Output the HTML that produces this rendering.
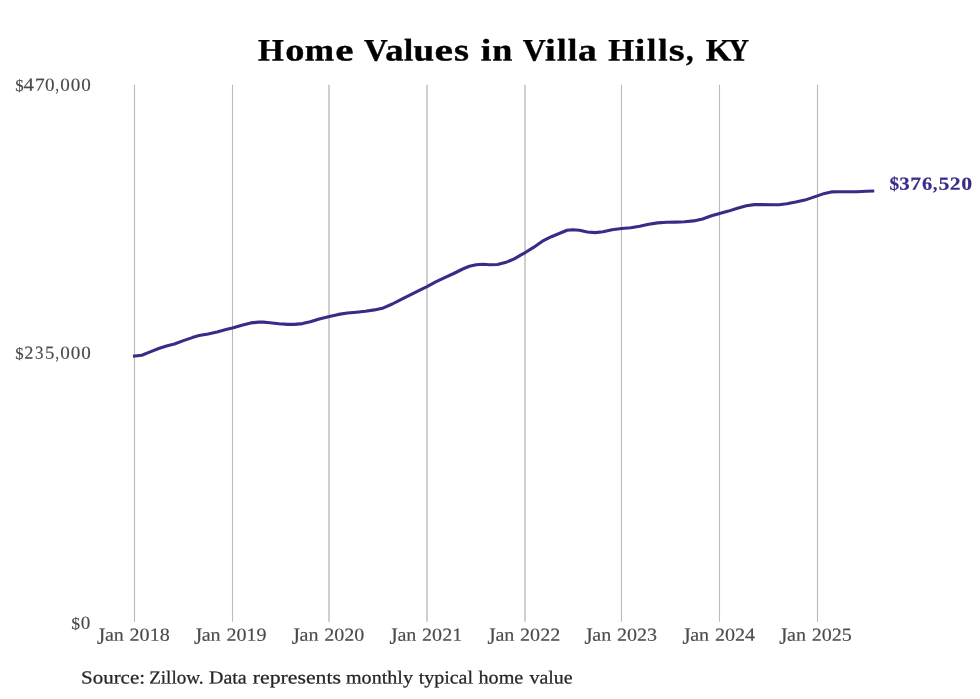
<!DOCTYPE html>
<html><head><meta charset="utf-8"><title>Home Values in Villa Hills, KY</title>
<style>html,body{margin:0;padding:0;background:#fff;}svg{display:block;will-change:transform;}text{font-family:"Liberation Serif",serif;text-rendering:geometricPrecision;}</style></head><body>
<svg width="980" height="699" viewBox="0 0 980 699">
<line x1="134.5" y1="84.8" x2="134.5" y2="621.8" stroke="#bababa" stroke-width="1.1"/>
<line x1="232.5" y1="84.8" x2="232.5" y2="621.8" stroke="#bababa" stroke-width="1.1"/>
<line x1="329.0" y1="84.8" x2="329.0" y2="621.8" stroke="#a8a8a8" stroke-width="1.1"/>
<line x1="427.0" y1="84.8" x2="427.0" y2="621.8" stroke="#a8a8a8" stroke-width="1.1"/>
<line x1="525.0" y1="84.8" x2="525.0" y2="621.8" stroke="#a8a8a8" stroke-width="1.1"/>
<line x1="621.5" y1="84.8" x2="621.5" y2="621.8" stroke="#bababa" stroke-width="1.1"/>
<line x1="719.5" y1="84.8" x2="719.5" y2="621.8" stroke="#bababa" stroke-width="1.1"/>
<line x1="817.5" y1="84.8" x2="817.5" y2="621.8" stroke="#bababa" stroke-width="1.1"/>
<text transform="translate(258.07,60.6) scale(1.0628,1) rotate(0.03)" font-size="31.2" font-weight="bold" fill="#000000" stroke="#000000" stroke-width="0.4">H</text>
<text transform="translate(285.25,60.6) scale(1.2311,1) rotate(0.03)" font-size="31.2" font-weight="bold" fill="#000000" stroke="#000000" stroke-width="0.4">o</text>
<text transform="translate(304.80,60.6) scale(1.1258,1) rotate(0.03)" font-size="31.2" font-weight="bold" fill="#000000" stroke="#000000" stroke-width="0.4">m</text>
<text transform="translate(335.17,60.6) scale(1.3149,1) rotate(0.03)" font-size="31.2" font-weight="bold" fill="#000000" stroke="#000000" stroke-width="0.4">e</text>
<text transform="translate(363.90,60.6) scale(1.0506,1) rotate(0.03)" font-size="31.2" font-weight="bold" fill="#000000" stroke="#000000" stroke-width="0.4">V</text>
<text transform="translate(385.30,60.6) scale(1.1706,1) rotate(0.03)" font-size="31.2" font-weight="bold" fill="#000000" stroke="#000000" stroke-width="0.4">a</text>
<text transform="translate(403.97,60.6) scale(1.0478,1) rotate(0.03)" font-size="31.2" font-weight="bold" fill="#000000" stroke="#000000" stroke-width="0.4">l</text>
<text transform="translate(413.53,60.6) scale(1.1853,1) rotate(0.03)" font-size="31.2" font-weight="bold" fill="#000000" stroke="#000000" stroke-width="0.4">u</text>
<text transform="translate(434.55,60.6) scale(1.3314,1) rotate(0.03)" font-size="31.2" font-weight="bold" fill="#000000" stroke="#000000" stroke-width="0.4">e</text>
<text transform="translate(454.03,60.6) scale(1.2363,1) rotate(0.03)" font-size="31.2" font-weight="bold" fill="#000000" stroke="#000000" stroke-width="0.4">s</text>
<text transform="translate(480.64,60.6) scale(1.2179,1) rotate(0.03)" font-size="31.2" font-weight="bold" fill="#000000" stroke="#000000" stroke-width="0.4">i</text>
<text transform="translate(492.18,60.6) scale(1.1551,1) rotate(0.03)" font-size="31.2" font-weight="bold" fill="#000000" stroke="#000000" stroke-width="0.4">n</text>
<text transform="translate(522.80,60.6) scale(1.0239,1) rotate(0.03)" font-size="31.2" font-weight="bold" fill="#000000" stroke="#000000" stroke-width="0.4">V</text>
<text transform="translate(545.03,60.6) scale(1.2308,1) rotate(0.03)" font-size="31.2" font-weight="bold" fill="#000000" stroke="#000000" stroke-width="0.4">i</text>
<text transform="translate(556.96,60.6) scale(1.0971,1) rotate(0.03)" font-size="31.2" font-weight="bold" fill="#000000" stroke="#000000" stroke-width="0.4">l</text>
<text transform="translate(567.76,60.6) scale(1.0971,1) rotate(0.03)" font-size="31.2" font-weight="bold" fill="#000000" stroke="#000000" stroke-width="0.4">l</text>
<text transform="translate(577.88,60.6) scale(1.1984,1) rotate(0.03)" font-size="31.2" font-weight="bold" fill="#000000" stroke="#000000" stroke-width="0.4">a</text>
<text transform="translate(608.37,60.6) scale(1.0670,1) rotate(0.03)" font-size="31.2" font-weight="bold" fill="#000000" stroke="#000000" stroke-width="0.4">H</text>
<text transform="translate(634.84,60.6) scale(1.2179,1) rotate(0.03)" font-size="31.2" font-weight="bold" fill="#000000" stroke="#000000" stroke-width="0.4">i</text>
<text transform="translate(647.07,60.6) scale(1.0725,1) rotate(0.03)" font-size="31.2" font-weight="bold" fill="#000000" stroke="#000000" stroke-width="0.4">l</text>
<text transform="translate(658.17,60.6) scale(1.0725,1) rotate(0.03)" font-size="31.2" font-weight="bold" fill="#000000" stroke="#000000" stroke-width="0.4">l</text>
<text transform="translate(668.79,60.6) scale(1.3004,1) rotate(0.03)" font-size="31.2" font-weight="bold" fill="#000000" stroke="#000000" stroke-width="0.4">s</text>
<text transform="translate(685.90,60.6) scale(0.9615,1) rotate(0.03)" font-size="31.2" font-weight="bold" fill="#000000" stroke="#000000" stroke-width="0.4">,</text>
<text transform="translate(705.67,60.6) scale(1.0531,1) rotate(0.03)" font-size="31.2" font-weight="bold" fill="#000000" stroke="#000000" stroke-width="0.4">K</text>
<text transform="translate(728.42,60.6) scale(0.9112,1) rotate(0.03)" font-size="31.2" font-weight="bold" fill="#000000" stroke="#000000" stroke-width="0.4">Y</text>
<text transform="translate(15.23,90.85) scale(0.9075,0.9) rotate(0.03)" font-size="18.45" font-weight="normal" fill="#4a4a4a" stroke="#4a4a4a" stroke-width="0.15">$</text>
<text transform="translate(23.38,90.85) scale(1.1301,1) rotate(0.03)" font-size="18.45" font-weight="normal" fill="#4a4a4a" stroke="#4a4a4a" stroke-width="0.15">4</text>
<text transform="translate(34.94,90.85) scale(1.0453,1) rotate(0.03)" font-size="18.45" font-weight="normal" fill="#4a4a4a" stroke="#4a4a4a" stroke-width="0.15">7</text>
<text transform="translate(45.03,90.85) scale(1.0347,1) rotate(0.03)" font-size="18.45" font-weight="normal" fill="#4a4a4a" stroke="#4a4a4a" stroke-width="0.15">0</text>
<text transform="translate(55.49,90.85) scale(0.7453,1) rotate(0.03)" font-size="18.45" font-weight="normal" fill="#4a4a4a" stroke="#4a4a4a" stroke-width="0.15">,</text>
<text transform="translate(60.33,90.85) scale(1.0347,1) rotate(0.03)" font-size="18.45" font-weight="normal" fill="#4a4a4a" stroke="#4a4a4a" stroke-width="0.15">0</text>
<text transform="translate(70.73,90.85) scale(1.0347,1) rotate(0.03)" font-size="18.45" font-weight="normal" fill="#4a4a4a" stroke="#4a4a4a" stroke-width="0.15">0</text>
<text transform="translate(81.13,90.85) scale(1.0347,1) rotate(0.03)" font-size="18.45" font-weight="normal" fill="#4a4a4a" stroke="#4a4a4a" stroke-width="0.15">0</text>
<text transform="translate(15.23,358.8) scale(0.9075,0.9) rotate(0.03)" font-size="18.45" font-weight="normal" fill="#4a4a4a" stroke="#4a4a4a" stroke-width="0.15">$</text>
<text transform="translate(24.37,358.8) scale(0.9915,1) rotate(0.03)" font-size="18.45" font-weight="normal" fill="#4a4a4a" stroke="#4a4a4a" stroke-width="0.15">2</text>
<text transform="translate(35.02,358.8) scale(0.9201,1) rotate(0.03)" font-size="18.45" font-weight="normal" fill="#4a4a4a" stroke="#4a4a4a" stroke-width="0.15">3</text>
<text transform="translate(44.96,358.8) scale(1.0179,1) rotate(0.03)" font-size="18.45" font-weight="normal" fill="#4a4a4a" stroke="#4a4a4a" stroke-width="0.15">5</text>
<text transform="translate(55.49,358.8) scale(0.7453,1) rotate(0.03)" font-size="18.45" font-weight="normal" fill="#4a4a4a" stroke="#4a4a4a" stroke-width="0.15">,</text>
<text transform="translate(60.33,358.8) scale(1.0347,1) rotate(0.03)" font-size="18.45" font-weight="normal" fill="#4a4a4a" stroke="#4a4a4a" stroke-width="0.15">0</text>
<text transform="translate(70.73,358.8) scale(1.0347,1) rotate(0.03)" font-size="18.45" font-weight="normal" fill="#4a4a4a" stroke="#4a4a4a" stroke-width="0.15">0</text>
<text transform="translate(81.13,358.8) scale(1.0347,1) rotate(0.03)" font-size="18.45" font-weight="normal" fill="#4a4a4a" stroke="#4a4a4a" stroke-width="0.15">0</text>
<text transform="translate(71.29,628.8) scale(0.9580,0.9) rotate(0.03)" font-size="18.45" font-weight="normal" fill="#4a4a4a" stroke="#4a4a4a" stroke-width="0.15">$</text>
<text transform="translate(80.83,628.8) scale(1.0347,1) rotate(0.03)" font-size="18.45" font-weight="normal" fill="#4a4a4a" stroke="#4a4a4a" stroke-width="0.15">0</text>
<text transform="translate(97.08,643.8) scale(1.1305,1.27) rotate(0.03)" font-size="18.45" font-weight="normal" fill="#4a4a4a" stroke="#4a4a4a" stroke-width="0.15">J</text>
<text transform="translate(104.90,640.65) scale(1.0900,1) rotate(0.03)" font-size="18.45" font-weight="normal" fill="#4a4a4a" stroke="#4a4a4a" stroke-width="0.15">an</text>
<text transform="translate(129.60,640.65) scale(1.0868,1) rotate(0.03)" font-size="18.45" font-weight="normal" fill="#4a4a4a" stroke="#4a4a4a" stroke-width="0.15">2018</text>
<text transform="translate(193.88,643.8) scale(1.1305,1.27) rotate(0.03)" font-size="18.45" font-weight="normal" fill="#4a4a4a" stroke="#4a4a4a" stroke-width="0.15">J</text>
<text transform="translate(201.70,640.65) scale(1.0900,1) rotate(0.03)" font-size="18.45" font-weight="normal" fill="#4a4a4a" stroke="#4a4a4a" stroke-width="0.15">an</text>
<text transform="translate(226.40,640.65) scale(1.0868,1) rotate(0.03)" font-size="18.45" font-weight="normal" fill="#4a4a4a" stroke="#4a4a4a" stroke-width="0.15">2019</text>
<text transform="translate(291.78,643.8) scale(1.1305,1.27) rotate(0.03)" font-size="18.45" font-weight="normal" fill="#4a4a4a" stroke="#4a4a4a" stroke-width="0.15">J</text>
<text transform="translate(299.60,640.65) scale(1.0900,1) rotate(0.03)" font-size="18.45" font-weight="normal" fill="#4a4a4a" stroke="#4a4a4a" stroke-width="0.15">an</text>
<text transform="translate(324.30,640.65) scale(1.0868,1) rotate(0.03)" font-size="18.45" font-weight="normal" fill="#4a4a4a" stroke="#4a4a4a" stroke-width="0.15">2020</text>
<text transform="translate(389.58,643.8) scale(1.1305,1.27) rotate(0.03)" font-size="18.45" font-weight="normal" fill="#4a4a4a" stroke="#4a4a4a" stroke-width="0.15">J</text>
<text transform="translate(397.40,640.65) scale(1.0900,1) rotate(0.03)" font-size="18.45" font-weight="normal" fill="#4a4a4a" stroke="#4a4a4a" stroke-width="0.15">an</text>
<text transform="translate(422.10,640.65) scale(1.0868,1) rotate(0.03)" font-size="18.45" font-weight="normal" fill="#4a4a4a" stroke="#4a4a4a" stroke-width="0.15">2021</text>
<text transform="translate(487.58,643.8) scale(1.1305,1.27) rotate(0.03)" font-size="18.45" font-weight="normal" fill="#4a4a4a" stroke="#4a4a4a" stroke-width="0.15">J</text>
<text transform="translate(495.40,640.65) scale(1.0900,1) rotate(0.03)" font-size="18.45" font-weight="normal" fill="#4a4a4a" stroke="#4a4a4a" stroke-width="0.15">an</text>
<text transform="translate(520.10,640.65) scale(1.0868,1) rotate(0.03)" font-size="18.45" font-weight="normal" fill="#4a4a4a" stroke="#4a4a4a" stroke-width="0.15">2022</text>
<text transform="translate(584.48,643.8) scale(1.1305,1.27) rotate(0.03)" font-size="18.45" font-weight="normal" fill="#4a4a4a" stroke="#4a4a4a" stroke-width="0.15">J</text>
<text transform="translate(592.30,640.65) scale(1.0900,1) rotate(0.03)" font-size="18.45" font-weight="normal" fill="#4a4a4a" stroke="#4a4a4a" stroke-width="0.15">an</text>
<text transform="translate(617.00,640.65) scale(1.0868,1) rotate(0.03)" font-size="18.45" font-weight="normal" fill="#4a4a4a" stroke="#4a4a4a" stroke-width="0.15">2023</text>
<text transform="translate(682.38,643.8) scale(1.1305,1.27) rotate(0.03)" font-size="18.45" font-weight="normal" fill="#4a4a4a" stroke="#4a4a4a" stroke-width="0.15">J</text>
<text transform="translate(690.20,640.65) scale(1.0900,1) rotate(0.03)" font-size="18.45" font-weight="normal" fill="#4a4a4a" stroke="#4a4a4a" stroke-width="0.15">an</text>
<text transform="translate(714.90,640.65) scale(1.0868,1) rotate(0.03)" font-size="18.45" font-weight="normal" fill="#4a4a4a" stroke="#4a4a4a" stroke-width="0.15">2024</text>
<text transform="translate(779.18,643.8) scale(1.1305,1.27) rotate(0.03)" font-size="18.45" font-weight="normal" fill="#4a4a4a" stroke="#4a4a4a" stroke-width="0.15">J</text>
<text transform="translate(787.00,640.65) scale(1.0900,1) rotate(0.03)" font-size="18.45" font-weight="normal" fill="#4a4a4a" stroke="#4a4a4a" stroke-width="0.15">an</text>
<text transform="translate(811.70,640.65) scale(1.0868,1) rotate(0.03)" font-size="18.45" font-weight="normal" fill="#4a4a4a" stroke="#4a4a4a" stroke-width="0.15">2025</text>
<text transform="translate(81.04,683.5) scale(1.1360,1) rotate(0.03)" font-size="18.45" font-weight="normal" fill="#262626" stroke="#262626" stroke-width="0.25">Source:</text>
<text transform="translate(149.13,683.5) scale(1.0367,1) rotate(0.03)" font-size="18.45" font-weight="normal" fill="#262626" stroke="#262626" stroke-width="0.25">Zillow.</text>
<text transform="translate(209.00,683.5) scale(1.0840,1) rotate(0.03)" font-size="18.45" font-weight="normal" fill="#262626" stroke="#262626" stroke-width="0.25">Data</text>
<text transform="translate(252.78,683.5) scale(1.1800,1) rotate(0.03)" font-size="18.45" font-weight="normal" fill="#262626" stroke="#262626" stroke-width="0.25">represents</text>
<text transform="translate(346.00,683.5) scale(1.0889,1) rotate(0.03)" font-size="18.45" font-weight="normal" fill="#262626" stroke="#262626" stroke-width="0.25">monthly</text>
<text transform="translate(418.70,683.5) scale(1.0820,1) rotate(0.03)" font-size="18.45" font-weight="normal" fill="#262626" stroke="#262626" stroke-width="0.25">typical</text>
<text transform="translate(478.50,683.5) scale(1.0939,1) rotate(0.03)" font-size="18.45" font-weight="normal" fill="#262626" stroke="#262626" stroke-width="0.25">home</text>
<text transform="translate(529.50,683.5) scale(1.0815,1) rotate(0.03)" font-size="18.45" font-weight="normal" fill="#262626" stroke="#262626" stroke-width="0.25">value</text>
<text transform="translate(889.42,189.75) scale(1.0479,1) rotate(0.03)" font-size="18.45" font-weight="bold" fill="#372c88" stroke="#372c88" stroke-width="0.15">$</text>
<text transform="translate(899.17,189.75) scale(1.1333,1) rotate(0.03)" font-size="18.45" font-weight="bold" fill="#372c88" stroke="#372c88" stroke-width="0.15">3</text>
<text transform="translate(910.32,189.75) scale(1.1722,1) rotate(0.03)" font-size="18.45" font-weight="bold" fill="#372c88" stroke="#372c88" stroke-width="0.15">7</text>
<text transform="translate(921.99,189.75) scale(1.1086,1) rotate(0.03)" font-size="18.45" font-weight="bold" fill="#372c88" stroke="#372c88" stroke-width="0.15">6</text>
<text transform="translate(933.12,189.75) scale(0.9550,1) rotate(0.03)" font-size="18.45" font-weight="bold" fill="#372c88" stroke="#372c88" stroke-width="0.15">,</text>
<text transform="translate(938.53,189.75) scale(1.1848,1) rotate(0.03)" font-size="18.45" font-weight="bold" fill="#372c88" stroke="#372c88" stroke-width="0.15">5</text>
<text transform="translate(949.83,189.75) scale(1.1743,1) rotate(0.03)" font-size="18.45" font-weight="bold" fill="#372c88" stroke="#372c88" stroke-width="0.15">2</text>
<text transform="translate(961.25,189.75) scale(1.1826,1) rotate(0.03)" font-size="18.45" font-weight="bold" fill="#372c88" stroke="#372c88" stroke-width="0.15">0</text>
<polyline fill="none" stroke="#372c88" stroke-width="3.1" stroke-linecap="square" stroke-linejoin="round" points="134.5,356.0 141.8,355.2 150.8,351.6 158.7,348.5 166.5,346.0 174.4,344.0 183.4,340.6 192.3,337.6 199.1,335.6 208.1,333.9 217.0,331.9 226.0,329.6 232.4,328.1 241.8,325.3 250.8,322.9 258.7,322.1 263.2,322.1 269.9,322.7 278.9,323.7 287.9,324.4 294.6,324.4 302.5,323.6 310.3,321.7 319.3,318.9 329.4,316.4 338.5,314.4 347.4,313.0 356.4,312.2 365.4,311.3 374.4,309.9 383.4,307.9 392.3,304.0 401.3,299.3 410.3,294.8 419.3,290.3 427.0,286.6 435.7,281.9 444.7,277.7 453.7,273.5 462.7,269.0 469.4,266.2 476.1,264.7 482.9,264.3 489.6,264.8 497.5,264.5 505.3,262.6 514.3,258.9 521.0,254.9 524.9,252.8 533.5,247.4 542.4,241.2 551.4,236.7 560.4,233.0 567.1,230.3 572.8,229.8 579.5,230.2 587.3,232.0 595.2,232.6 603.1,231.8 612.0,229.8 621.6,228.5 630.7,227.7 639.7,226.3 648.7,224.2 657.7,222.9 666.6,222.3 675.6,222.1 684.6,221.8 693.6,220.9 702.6,219.0 711.5,215.8 719.6,213.4 728.5,211.1 737.4,208.2 746.4,205.7 754.3,204.6 762.1,204.6 771.1,204.8 779.0,204.7 786.8,203.8 795.8,202.1 804.8,200.1 811.5,197.9 817.3,195.9 824.6,193.4 831.3,191.9 839.2,191.7 848.2,191.8 857.1,191.7 866.1,191.3 872.7,191.1"/>
</svg></body></html>
